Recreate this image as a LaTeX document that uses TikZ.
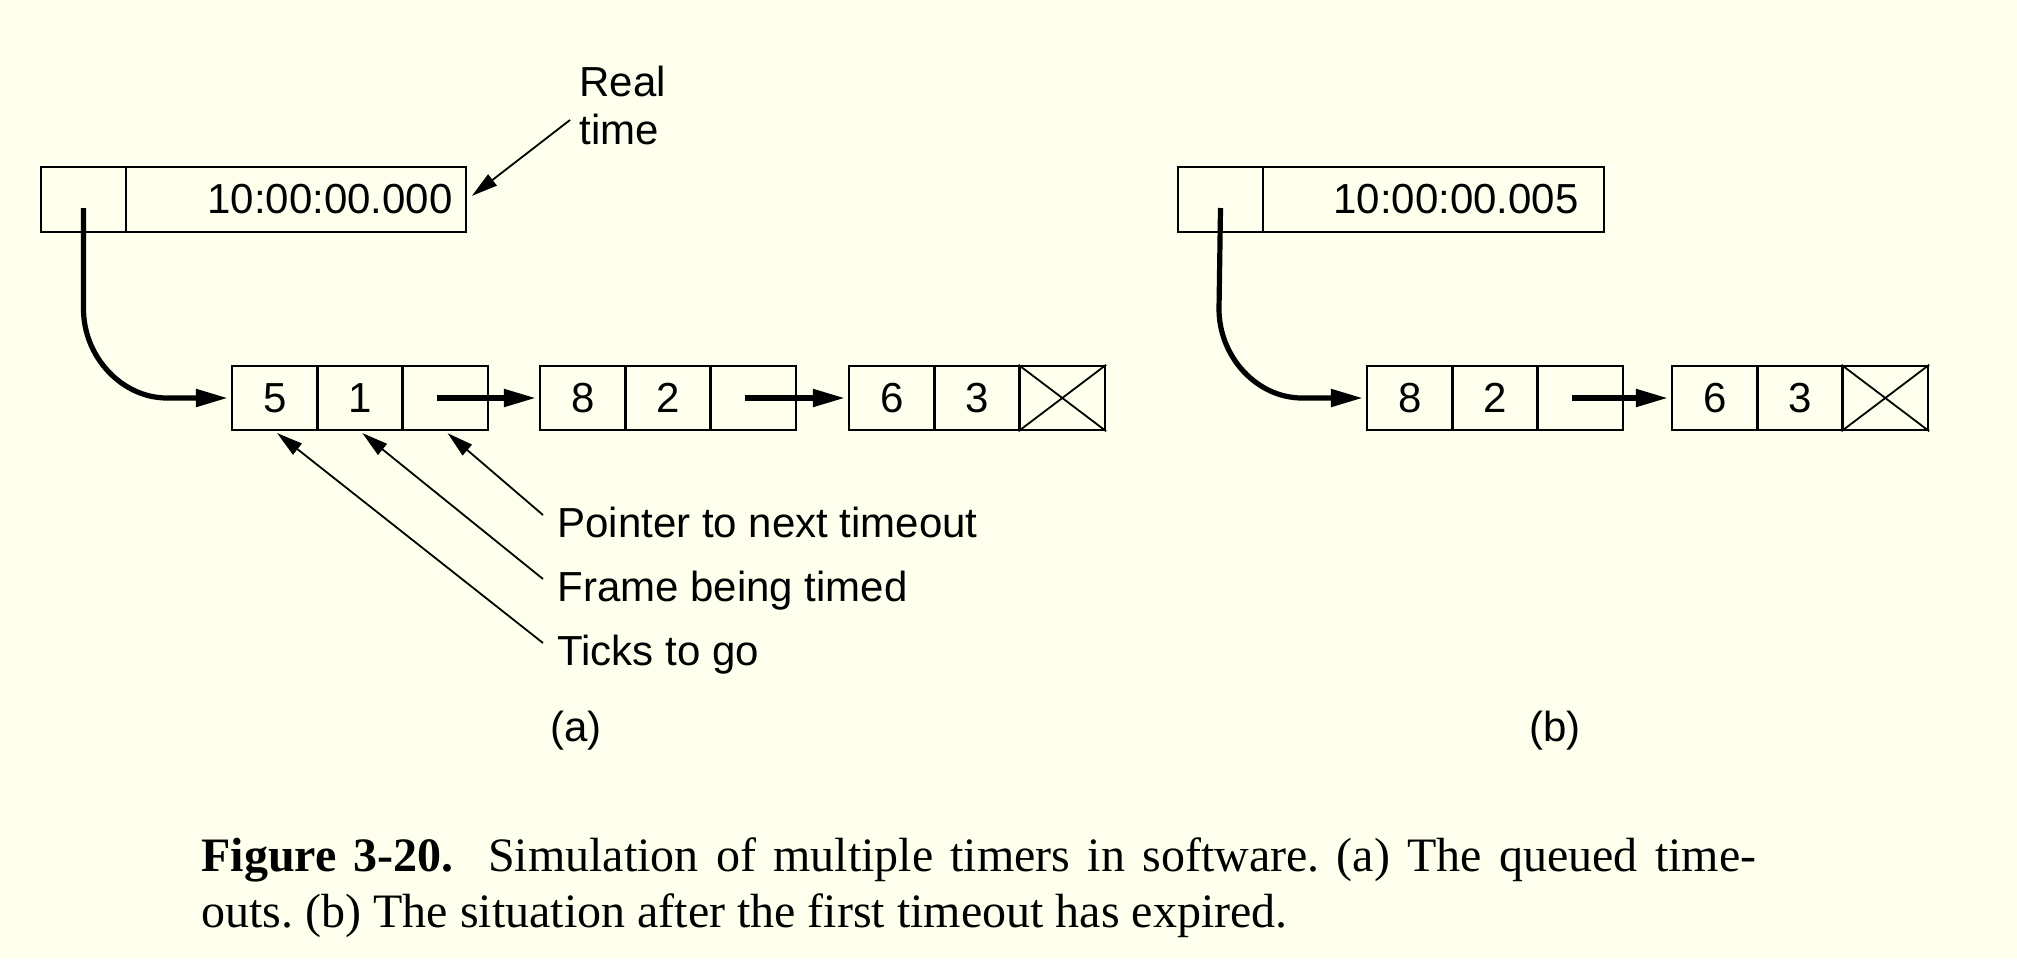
\documentclass[tikz,border=0pt]{standalone}
\usepackage{fontspec}
\setmainfont{Liberation Serif}
\newfontfamily\diafont{Liberation Sans}
\usetikzlibrary{arrows.meta}
\definecolor{bgcol}{RGB}{255,255,238}
\begin{document}
\begin{tikzpicture}[x=0.5pt,y=-0.5pt,
  cell/.style={draw, line width=1.2pt, minimum width=42.67pt, minimum height=32pt, inner sep=0pt, font=\diafont\fontsize{21}{24}\selectfont},
  lab/.style={inner sep=0pt, font=\diafont\fontsize{21}{24}\selectfont},
  ptr/.style={line width=2.6pt, -{Triangle[length=16pt,width=8.5pt]}, shorten >=1.5pt},
  note/.style={line width=0.9pt, -{Triangle[length=13pt,width=7pt]}, shorten >=1.5pt},
]
\fill[bgcol] (0,0) rectangle (2017,959);
\useasboundingbox (0,0) rectangle (2017,959);

% ---------- (a) ----------
\node[cell, minimum width=42.5pt, minimum height=32.5pt] (ta1) at (83.5,199.5) {};
\node[cell, minimum width=170pt, minimum height=32.5pt] (ta2) at (296,199.5) {};
\node[lab, anchor=east] (tat) at (453,199.5) {10:00:00.000};
\node[lab, align=left, anchor=north west] (rt) at (579,66) {Real\\time};
\coordinate (rtc) at (570,120);
\draw[note, shorten >=3pt] (rtc) -- (ta2.east);

\node[cell] (a1) at (274.7,398) {5};
\node[cell] (a2) at (360,398) {1};
\node[cell] (a3) at (445.3,398) {};
\node[cell] (b1) at (582.7,398) {8};
\node[cell] (b2) at (668,398) {2};
\node[cell] (b3) at (753.3,398) {};
\node[cell] (c1) at (891.7,398) {6};
\node[cell] (c2) at (977,398) {3};
\node[cell] (c3) at (1062.3,398) {};
\draw[line width=0.9pt] (c3.north west) -- (c3.south east) (c3.south west) -- (c3.north east);

\draw[ptr] ([yshift=-4.25pt]ta1.center) -- (83.5,309) .. controls (83.5,357) and (122,398) .. (167,398) -- (a1.west);
\draw[ptr] ([xshift=-4pt]a3.center) -- (b1.west);
\draw[ptr] ([xshift=-4pt]b3.center) -- (c1.west);

\node[lab, anchor=base west] (lp) at (557,537) {Pointer to next timeout};
\node[lab, anchor=base west] (lf) at (557,601) {Frame being timed};
\node[lab, anchor=base west] (lt) at (557,665) {Ticks to go};
\draw[note] ([xshift=-7pt,yshift=11pt]lp.base west) -- (a3.south);
\draw[note] ([xshift=-7pt,yshift=11pt]lf.base west) -- (a2.south);
\draw[note] ([xshift=-7pt,yshift=11pt]lt.base west) -- (a1.south);

\node[lab] (la) at (576,731) {(a)};

% ---------- (b) ----------
\node[cell, minimum width=42.5pt, minimum height=32.5pt] (tb1) at (1220.5,199.5) {};
\node[cell, minimum width=170.5pt, minimum height=32.5pt] (tb2) at (1433.5,199.5) {};
\node[lab, anchor=east] (tbt) at (1579,199.5) {10:00:00.005};

\node[cell] (d1) at (1409.7,398) {8};
\node[cell] (d2) at (1495,398) {2};
\node[cell] (d3) at (1580.3,398) {};
\node[cell] (e1) at (1714.7,398) {6};
\node[cell] (e2) at (1800,398) {3};
\node[cell] (e3) at (1885.3,398) {};
\draw[line width=0.9pt] (e3.north west) -- (e3.south east) (e3.south west) -- (e3.north east);

\draw[ptr] ([yshift=-4.25pt]tb1.center) -- (1219,309) .. controls (1219,357) and (1257,398) .. (1302,398) -- (d1.west);
\draw[ptr] ([xshift=-4pt]d3.center) -- (e1.west);

\node[lab] (lb) at (1555,731) {(b)};

% ---------- caption ----------
\node[anchor=north west, inner sep=0pt, font=\fontsize{24}{28}\selectfont] (cap) at (201,837)
  {\parbox{777.5pt}{\frenchspacing\hyphenpenalty=10000\textbf{Figure 3-20.}\ \ Simulation of multiple timers in software. (a) The queued time-\linebreak outs. (b) The situation after the first timeout has expired.}};
\end{tikzpicture}
\end{document}
